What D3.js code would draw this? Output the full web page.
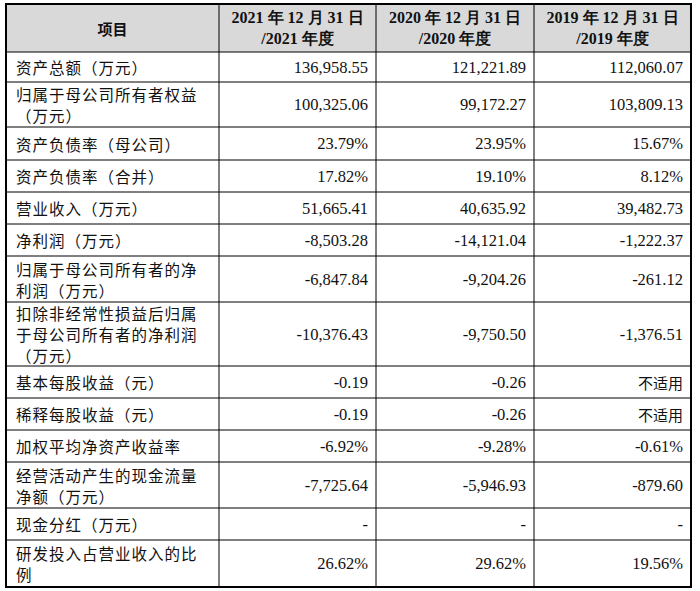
<!DOCTYPE html>
<html><head><meta charset="utf-8">
<script src="https://cdn.jsdelivr.net/npm/d3@7"></script>
<style>body{margin:0;background:#fff}</style></head>
<body><svg id="c" width="700" height="591"></svg>
<script>
const headers = [["项目"],["2021 年 12 月 31 日","/2021 年度"],["2020 年 12 月 31 日","/2020 年度"],["2019 年 12 月 31 日","/2019 年度"]];
const items = [["资产总额（万元）"],["归属于母公司所有者权益","（万元）"],["资产负债率（母公司）"],["资产负债率（合并）"],["营业收入（万元）"],["净利润（万元）"],["归属于母公司所有者的净","利润（万元）"],["扣除非经常性损益后归属","于母公司所有者的净利润","（万元）"],["基本每股收益（元）"],["稀释每股收益（元）"],["加权平均净资产收益率"],["经营活动产生的现金流量","净额（万元）"],["现金分红（万元）"],["研发投入占营业收入的比","例"]];
const v2021 = ["136,958.55","100,325.06","23.79%","17.82%","51,665.41","-8,503.28","-6,847.84","-10,376.43","-0.19","-0.19","-6.92%","-7,725.64","-","26.62%"];
const v2020 = ["121,221.89","99,172.27","23.95%","19.10%","40,635.92","-14,121.04","-9,204.26","-9,750.50","-0.26","-0.26","-9.28%","-5,946.93","-","29.62%"];
const v2019 = ["112,060.07","103,809.13","15.67%","8.12%","39,482.73","-1,222.37","-261.12","-1,376.51","不适用","不适用","-0.61%","-879.60","-","19.56%"];
const rowBounds = [4,52,82,127,160,192,224,256,302,366,398,430,462,508,540,587];
const colBounds = [6,219,376,534,691];

const svg = d3.select("#c");
const cjk = "'Noto Sans CJK SC', sans-serif", ser = "'Liberation Serif','Times New Roman',serif";
svg.append("rect").attr("x",colBounds[0]).attr("y",rowBounds[0]).attr("width",colBounds[4]-colBounds[0]).attr("height",rowBounds[1]-rowBounds[0]).attr("fill","#d9d9d9");
const g = svg.append("g");
rowBounds.slice(1,-1).forEach(y=>g.append("line").attr("x1",colBounds[0]).attr("x2",colBounds[4]).attr("y1",y).attr("y2",y).attr("stroke","#000").attr("stroke-width",1));
colBounds.slice(1,-1).forEach(x=>g.append("line").attr("x1",x).attr("x2",x).attr("y1",rowBounds[0]).attr("y2",rowBounds[rowBounds.length-1]).attr("stroke","#000").attr("stroke-width",1));
svg.append("rect").attr("x",colBounds[0]).attr("y",rowBounds[0]).attr("width",colBounds[4]-colBounds[0]).attr("height",rowBounds[rowBounds.length-1]-rowBounds[0]).attr("fill","none").attr("stroke","#000").attr("stroke-width",2);

function lines(x,yc,arr,anchor,font,weight,size,ls){
  const lh = 21, y0 = yc - (arr.length-1)*lh/2;
  arr.forEach((t,i)=>svg.append("text").attr("x",x).attr("y",y0+i*lh).attr("dominant-baseline","central")
    .attr("text-anchor",anchor).attr("font-family",font).attr("font-weight",weight).attr("font-size",size)
    .attr("letter-spacing",ls||0).attr("fill","#111").text(t));
}
const yc0=(rowBounds[0]+rowBounds[1])/2;
headers.forEach((h,i)=>lines((colBounds[i]+colBounds[i+1])/2, yc0, h, "middle", i==0?cjk:ser, "bold", i==0?15:16));
items.forEach((it,r)=>{
  const yc=(rowBounds[r+1]+rowBounds[r+2])/2;
  lines(colBounds[0]+10, yc, it, "start", cjk, "normal", 15.5, 1);
  [v2021,v2020,v2019].forEach((vs,c)=>{
    const isC=/[^\x00-\x7f]/.test(vs[r]);
    lines(colBounds[c+2]-8, yc, [vs[r]], "end", isC?cjk:ser, "normal", isC?15:16.5);
  });
});
</script></body></html>
